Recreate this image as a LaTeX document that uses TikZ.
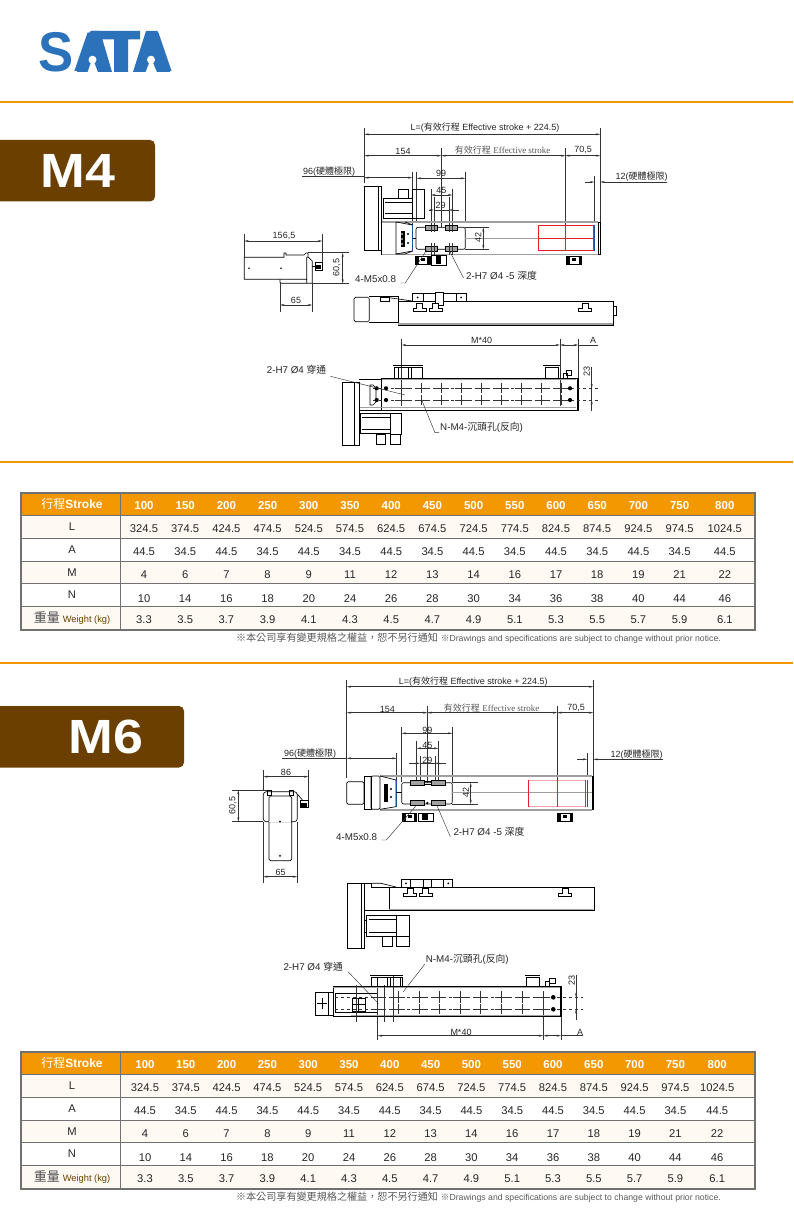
\documentclass[tikz,border=0pt]{standalone}
\usepackage{fontspec}
\setmainfont{Liberation Sans}
\newfontfamily\serifface{Liberation Serif}
\newfontfamily\cjk{Noto Sans CJK TC}
\usetikzlibrary{arrows.meta}
\definecolor{barorange}{HTML}{F39800}
\definecolor{tabbrown}{HTML}{6B3F00}
\definecolor{logoblue}{HTML}{2B72BA}
\definecolor{tablegray}{HTML}{717171}
\definecolor{rowcream}{HTML}{FEF9F3}
\definecolor{railgray}{HTML}{A0A0A0}
\definecolor{stopred}{HTML}{E8202A}
\definecolor{stopblue}{HTML}{1F4FA0}
\tikzset{
	dimline/.style={line width=0.45pt,draw=black!80,{Stealth[length=4.5pt,width=2pt]}-{Stealth[length=4.5pt,width=2pt]}},
	tipline/.style={line width=0.45pt,draw=black!80,-{Stealth[length=4.5pt,width=2pt]}},
	extline/.style={line width=0.45pt,draw=black!80},
	part/.style={line width=0.65pt,draw=black},
	rail/.style={line width=1.3pt,draw=railgray},
	dimlabel/.style={font=\fontsize{9}{10}\selectfont,text=black!85,inner sep=0pt},
	callout/.style={font=\fontsize{9.8}{10}\selectfont,text=black!85,inner sep=0pt},
	cell/.style={font=\fontsize{11.2}{12}\selectfont,text=black!85,inner sep=0pt},
	headcell/.style={font=\fontsize{11.5}{12}\selectfont\bfseries,text=white,inner sep=0pt},
	tabtext/.style={font=\fontsize{48}{50}\selectfont\bfseries,text=white,inner sep=0pt,xscale=1.12,transform shape},
	notetext/.style={text=black!65,inner sep=0pt}
}
\newcommand{\hdim}[3]{\draw[dimline] (#2,#1) -- (#3,#1);}
\newcommand{\vdim}[3]{\draw[dimline] (#1,#2) -- (#1,#3);}
\newcommand{\ext}[3]{\draw[extline] (#1,#2) -- (#1,#3);}
\newcommand{\hext}[3]{\draw[extline] (#2,#1) -- (#3,#1);}
\newcommand{\footblock}[3]{
	\draw[part] (#1,#2) rectangle ++(#3,8);
	\fill (#1,#2) rectangle ++(3.5,8);
	\fill ({#1+#3-3},#2) rectangle ++(3,8);
	\fill ({#1+#3/2-2},{#2+2}) rectangle ++(4,3);
}
\newcommand{\tfoot}[2]{
	\draw[part,fill=white] (#1,#2+8) -- ++(0,-3) -- ++(3.5,0) -- ++(0,-5) -- ++(6,0) -- ++(0,5) -- ++(3.5,0) -- ++(0,3) -- cycle;
	\draw[line width=1pt] (#1,#2+8) -- ++(13,0);
}
\newcommand{\specdata}{100/324.5/44.5/4/10/3.3,150/374.5/34.5/6/14/3.5,200/424.5/44.5/7/16/3.7,250/474.5/34.5/8/18/3.9,300/524.5/44.5/9/20/4.1,350/574.5/34.5/11/24/4.3,400/624.5/44.5/12/26/4.5,450/674.5/34.5/13/28/4.7,500/724.5/44.5/14/30/4.9,550/774.5/34.5/16/34/5.1,600/824.5/44.5/17/36/5.3,650/874.5/34.5/18/38/5.5,700/924.5/44.5/19/40/5.7,750/974.5/34.5/21/44/5.9,800/1024.5/44.5/22/46/6.1}
\newcommand{\spectable}[4]{
	\begin{scope}[shift={(0,#1)}]
		\fill[barorange] (21,0) rectangle (755,22.6);
		\fill[rowcream] (21,22.6) rectangle (755,45.3);
		\fill[rowcream] (21,68.3) rectangle (755,90.6);
		\fill[rowcream] (21,113.3) rectangle (755,137);
		\foreach \rowy in {22.6,45.3,68.3,90.6,113.3}
			\draw[tablegray,line width=0.9pt] (21,\rowy) -- (755,\rowy);
		\draw[tablegray,line width=0.9pt] (120.3,0) -- (120.3,137);
		\draw[tablegray,line width=1.8pt] (21,0) rectangle (755,137);
		\node[headcell,font=\fontsize{12}{13}\selectfont] (head#1) at (72,11.3) {{\cjk 行程}\textbf{Stroke}};
		\node[cell] (rowL#1) at (72,33.7) {L};
		\node[cell] (rowA#1) at (72,57) {A};
		\node[cell] (rowM#1) at (72,79.7) {M};
		\node[cell] (rowN#1) at (72,102) {N};
		\node[cell,text=black!70,anchor=base] (rowW#1) at (72,129) {{\cjk\fontsize{13}{14}\selectfont 重量} {\fontsize{9.3}{10}\selectfont\color{tabbrown}Weight (kg)}};
		\foreach \st/\lv/\av/\mv/\nv/\wv [count=\i from 0] in \specdata {
			\pgfmathsetmacro{\colx}{#2+#3*\i+#4*int(\i/14)}
			\node[headcell] (st#1\i) at (\colx,12.7) {\st};
			\node[cell] (lv#1\i) at (\colx,35.3) {\lv};
			\node[cell] (av#1\i) at (\colx,58.7) {\av};
			\node[cell] (mv#1\i) at (\colx,82) {\mv};
			\node[cell] (nv#1\i) at (\colx,105.3) {\nv};
			\node[cell] (wv#1\i) at (\colx,126.3) {\wv};
		}
		\node[notetext,anchor=east] (note#1) at (721,145.3) {{\cjk\fontsize{10.1}{11}\selectfont ※本公司享有變更規格之權益，恕不另行通知} {\cjk\fontsize{8.7}{9}\selectfont ※}{\fontsize{8.7}{9}\selectfont Drawings and specifications are subject to change without prior notice.}};
	\end{scope}
}
\begin{document}
\begin{tikzpicture}[x=1pt,y=-1pt]
		\useasboundingbox (0,0) rectangle (793,1214);
		\fill[white] (0,0) rectangle (793,1214);
		\node[font=\fontsize{56}{58}\selectfont\bfseries,text=logoblue,inner sep=0pt,xscale=0.94,transform shape,anchor=base west] (logo) at (38,72) {SATA};
		\fill[white] (76,31) -- (87,31) -- (76,62) -- cycle;
		\fill[logoblue] (77,72) -- (90.5,31) -- (100,31) -- (112,72) -- cycle;
		\fill[logoblue] (92,31) -- (140,31) -- (140,39.5) -- (128,39.5) -- (128,72) -- (114,72) -- (114,39.5) -- (92,39.5) -- cycle;
		\fill[logoblue] (133,72) -- (146,31) -- (157.5,31) -- (170,72) -- cycle;
		\fill[white] (92.5,59.7) circle (4);
		\fill[white] (87.5,72.5) -- (92.5,58) -- (98,72.5) -- cycle;
		\fill[white] (151,59.7) circle (4);
		\fill[white] (145.5,72.5) -- (151,58) -- (157,72.5) -- cycle;
		\foreach \bary in {102,462,663}
			\fill[barorange] (0,\bary-1) rectangle (793,\bary+1);
		\fill[tabbrown] (0,140) [rounded corners=5pt] -- (155,140) -- (155,201.5) [sharp corners] -- (0,201.5) -- cycle;
		\node[tabtext] (tabfour) at (78,171) {M4};
		\fill[tabbrown] (0,706) [rounded corners=5pt] -- (184,706) -- (184,767.5) [sharp corners] -- (0,767.5) -- cycle;
		\node[tabtext] (tabsix) at (106,737) {M6};

		\ext{364.3}{128}{183}
		\ext{600.3}{128}{222}
		\hdim{134.3}{364.3}{600.3}
		\node[dimlabel] (fourtotal) at (485,127.7) {L=({\cjk 有效行程} Effective stroke + 224.5)};
		\ext{441.3}{148}{230}
		\hdim{155.7}{364.3}{441.3}
		\node[dimlabel] (fourhome) at (403,151) {154};
		\ext{565.3}{148}{250}
		\hdim{155.7}{441.3}{565.3}
		\hdim{155.7}{565.3}{600.3}
		\node[dimlabel,text=black!65] (fourstroke) at (502.7,150) {{\cjk 有效行程} {\serifface Effective stroke}};
		\node[dimlabel] (fourend) at (583,150) {70,5};
		\ext{412.3}{171.7}{230}
		\hext{176}{302}{364.3}
		\hdim{177.7}{364.3}{412.3}
		\node[dimlabel] (fourhard) at (329,171.5) {96({\cjk 硬體極限})};
		\ext{416.7}{171.7}{223}
		\ext{465.3}{171.7}{223}
		\hdim{178.3}{416.7}{465.3}
		\node[dimlabel] (fournine) at (441,173) {99};
		\ext{431}{189}{230}
		\ext{452.3}{189}{230}
		\hdim{195}{431}{452.3}
		\node[dimlabel] (fourfive) at (441.3,190.7) {45};
		\ext{434}{197}{230}
		\ext{449}{197}{230}
		\draw[tipline] (429,210) -- (434,210);
		\draw[tipline] (459,210) -- (449,210);
		\hext{210}{434}{449}
		\node[dimlabel] (fourtwo) at (440.7,205) {29};
		\ext{594.3}{176}{221}
		\draw[tipline] (585,182) -- (594.3,182);
		\draw[tipline] (667.3,182) -- (600.3,182);
		\node[dimlabel] (fourstop) at (641.7,176.5) {12({\cjk 硬體極限})};

		\draw[part] (364.3,186.7) rectangle (378.3,250);
		\draw[part] (378.3,186.7) rectangle (381.7,250);
		\draw[part] (383,198) rectangle (412,218);
		\draw[part] (385,202) -- (412,202);
		\draw[part] (385,213) -- (412,213);
		\draw[part] (412,189) rectangle (424,218);
		\draw[part] (398,189) rectangle (408,198);
		\draw[part] (381.7,222) rectangle (600.3,254.3);
		\draw[rail] (381.7,222) -- (598,222);
		\draw[rail] (381.7,254.3) -- (598,254.3);
		\draw[part] (598,222) rectangle (600.3,254.3);
		\draw[part] (396,222) -- (396,254) -- (405,254) -- (412.5,251) -- (412.5,225) -- (405,222);
		\draw[part] (396,222) -- (412.5,225);
		\draw[part] (396,254) -- (412.5,251);
		\fill (401,231) rectangle (405,247);
		\fill[white] (402,234) circle (0.8) (402,239) circle (0.8) (402,244) circle (0.8);
		\foreach \boltx/\bolty in {408/234,408/243}
			\fill (\boltx,\bolty) circle (1.2);
		\draw[stopblue,line width=0.9pt] (412.7,225) -- (412.7,251);
		\draw[part,fill=white,rounded corners=2pt] (416,227.3) rectangle (465.3,249.3);
		\draw[line width=0.7pt,fill=railgray] (425,225) rectangle (437.7,230);
		\draw[line width=0.7pt,fill=railgray] (445,225) rectangle (457.7,230);
		\draw[line width=0.7pt,fill=railgray] (425,246.7) rectangle (437,251);
		\draw[line width=0.7pt,fill=railgray] (445,246.7) rectangle (457.7,251);
		\draw[rail,line width=0.8pt] (465.3,238.3) -- (594,238.3);
		\draw[part] (412.7,238.3) -- (416,238.3);
		\ext{431}{226}{232}
		\ext{434}{226}{232}
		\ext{449}{226}{232}
		\ext{452.3}{226}{232}
		\ext{431}{243}{255}
		\ext{434}{243}{255}
		\ext{449}{243}{255}
		\ext{452.3}{243}{255}
		\hext{227.3}{465.3}{489.3}
		\hext{249.3}{465.3}{489.3}
		\vdim{483.3}{227.3}{249.3}
		\node[dimlabel,rotate=90] (fourbore) at (478.3,237.7) {42};
		\draw[stopred,line width=0.8pt] (538.3,225) rectangle (593.3,250.7);
		\draw[stopred,line width=0.7pt] (538.3,238.3) -- (593.3,238.3);
		\draw[stopred,line width=0.7pt] (565.3,225) -- (565.3,250.7);
		\draw[stopblue,line width=0.9pt] (594.3,225) -- (594.3,251);
		\footblock{415}{256}{15}
		\draw[part] (431,255) rectangle (446.7,265);
		\fill (436,256) rectangle (441,264);
		\footblock{566.7}{256}{15}
		\node[callout,anchor=west] (fourthread) at (355,279) {4-M5x0.8};
		\draw[extline] (fourthread.east) ++(4,4) -- ++(5,0) -- (426.7,250);
		\node[callout,anchor=west] (fourhole) at (466,276) {2-H7 Ø4 -5 {\cjk 深度}};
		\draw[extline] (fourhole.west) ++(-2.5,2) -- (450,251.7);

		\draw[part] (244.3,257.3) -- (284,257.3) -- (284,253) -- (286,253) -- (286,255) -- (304,255) -- (306,253) -- (308,253) -- (308,257) -- (312.3,261) -- (312.3,283.3) -- (306.7,283.3) -- (306.7,279.3) -- (244.3,279.3) -- cycle;
		\draw[part] (306.7,279.3) -- (306.7,257.3) -- (308,257);
		\draw[part,rounded corners=1pt] (280,279.3) -- (280,283.3) -- (306.7,283.3);
		\draw[part] (312.3,266) -- (315,266);
		\draw[part] (315,262.3) rectangle (322.3,270);
		\fill (316,265) rectangle (321,269);
		\fill (249,268.3) circle (0.9);
		\fill (281,268.3) circle (0.9);
		\ext{244.3}{234.3}{257}
		\ext{322.3}{234.3}{262}
		\hdim{241}{244.3}{322.3}
		\node[dimlabel] (fourwide) at (284,235.7) {156,5};
		\hext{252.7}{308}{349}
		\hext{283.7}{312}{349}
		\vdim{342.7}{252.7}{283.7}
		\node[dimlabel,rotate=90] (fourtall) at (336.7,267.7) {60,5};
		\ext{280}{283}{311.7}
		\ext{312.3}{283}{311.7}
		\hdim{305}{280}{312.3}
		\node[dimlabel] (fourbase) at (296,300) {65};

		\draw[part,rounded corners=1.5pt] (354,297.3) rectangle (369.3,321.7);
		\draw[part] (369.3,296.7) -- (398.3,296.7) -- (398.3,325);
		\draw[part] (369.3,322) -- (398.3,322);
		\draw[part] (398.3,301) -- (613.3,301) -- (613.3,325) -- (398.3,325);
		\draw[rail] (398.3,324) -- (613.3,324);
		\draw[part] (613.3,306.7) rectangle (616,315);
		\draw[part] (380.7,297.7) rectangle (389,301);
		\draw[part] (389,297.7) -- (412,301);
		\draw[part,fill=white] (412.3,293.3) rectangle (466.7,301);
		\draw[part] (423,293.3) -- (423,301) (456,293.3) -- (456,301);
		\draw[part,fill=white] (435,292) rectangle (443.3,305);
		\fill (417.7,297.5) circle (1);
		\fill (461,297.5) circle (1);
		\tfoot{413}{303.5}
		\tfoot{429}{303.5}
		\tfoot{578.5}{303.5}

		\hdim{345}{401.7}{560}
		\node[dimlabel] (fourpitch) at (481.7,340.7) {M*40};
		\ext{401.7}{339}{406}
		\ext{560}{339}{406}
		\ext{578.3}{339}{380}
		\hdim{345}{560}{578.3}
		\hext{345}{578.3}{598}
		\node[dimlabel] (fourgap) at (593,340.7) {A};
		\ext{591.7}{366.7}{411}
		\draw[tipline] (591.7,380) -- (591.7,388.3);
		\draw[tipline] (591.7,408) -- (591.7,400);
		\node[dimlabel,rotate=90] (fourrow) at (586.7,371.7) {23};
		\draw[part] (381.7,378.3) rectangle (578.3,410);
		\draw[rail] (381.7,379.5) -- (576,379.5);
		\draw[rail] (360,407.5) -- (576,407.5);
		\fill (577,379) rectangle (579,410);
		\draw[part] (342.7,382.7) rectangle (354,445);
		\draw[part] (354,382.7) rectangle (359,445);
		\draw[part] (359,379.3) -- (381.7,379.3);
		\draw[part] (359,410) -- (381.7,410);
		\draw[part] (370,385) -- (373,385) -- (376,388) -- (376,402) -- (373,405) -- (370,405) -- cycle;
		\foreach \crossy in {388.3,400}
			\draw[extline,dashed] (373,\crossy) -- (598,\crossy);
		\foreach \crossx in {401.7,421.7,...,561.7}{
			\ext{\crossx}{383}{393}
			\ext{\crossx}{395}{405}
			\hext{388.3}{\crossx-7}{\crossx+7}
			\hext{400}{\crossx-7}{\crossx+7}
		}
		\foreach \dotx/\doty in {376.7/388.3,386/388.3,376.7/400,386/400,570/388.3,570/400}
			\fill (\dotx,\doty) circle (2.1);
		\draw[part] (360,413.3) rectangle (390,433.3);
		\draw[part] (362,417) -- (390,417) (362,429) -- (390,429);
		\draw[part] (390,413.3) rectangle (401.7,434);
		\draw[part] (376,434) rectangle (385,444);
		\draw[part] (390,434) rectangle (400.7,444);
		\draw[part] (393.3,365) -- (423.3,365) (394,378) -- (394,367) -- (422,367) -- (422,378);
		\draw[part] (398,367) rectangle (408,378);
		\draw[part] (411,367) rectangle (422,378);
		\draw[part] (543,365) -- (560,365) (545,378) -- (545,367) -- (558,367) -- (558,378);
		\draw[part] (563,378) -- (563,373) -- (567,373) -- (567,378);
		\draw[line width=0.8pt] (566,370) rectangle (571,375);
		\node[callout,anchor=west] (fourthrough) at (266.7,369.3) {2-H7 Ø4 {\cjk 穿通}};
		\draw[extline] (fourthrough.east) ++(4,7) -- (405,395);
		\node[callout,anchor=west] (fourcounter) at (440,427.7) {N-M4-{\cjk 沉頭孔}({\cjk 反向})};
		\draw[extline] (fourcounter.west) ++(-1,5) -- ++(-4,0) -- (421.7,400);

		\spectable{493}{144}{41.2}{4}

		\ext{346.7}{680}{778}
		\ext{593.3}{680}{776.7}
		\hdim{686.7}{346.7}{593.3}
		\node[dimlabel] (sixtotal) at (473.3,682) {L=({\cjk 有效行程} Effective stroke + 224.5)};
		\ext{427.3}{706}{800}
		\hdim{712.7}{346.7}{427.3}
		\node[dimlabel] (sixhome) at (387.3,709.3) {154};
		\ext{557.3}{706}{806}
		\hdim{712.7}{427.3}{557.3}
		\hdim{712.7}{557.3}{593.3}
		\node[dimlabel,text=black!65] (sixstroke) at (491.7,708.3) {{\cjk 有效行程} {\serifface Effective stroke}};
		\node[dimlabel] (sixend) at (576,708) {70,5};
		\ext{396.7}{752.7}{793}
		\hext{758.3}{282.3}{346.7}
		\hdim{758.3}{346.7}{396.7}
		\node[dimlabel] (sixhard) at (310,753.5) {96({\cjk 硬體極限})};
		\ext{401.7}{727.3}{781.7}
		\ext{452.3}{727.3}{781.7}
		\hdim{733.3}{401.7}{452.3}
		\node[dimlabel] (sixnine) at (427.3,730) {99};
		\ext{416.7}{740.7}{803}
		\ext{438.3}{740.7}{803}
		\hdim{748.3}{416.7}{438.3}
		\node[dimlabel] (sixfive) at (427.3,745) {45};
		\ext{420}{756}{803}
		\ext{435}{756}{803}
		\draw[tipline] (409.3,763.3) -- (420,763.3);
		\draw[tipline] (446,763.3) -- (435,763.3);
		\hext{763.3}{420}{435}
		\node[dimlabel] (sixtwo) at (427.3,760) {29};
		\ext{587.3}{753}{776.7}
		\draw[tipline] (577.3,759.3) -- (587.3,759.3);
		\draw[tipline] (663.3,759.3) -- (593.3,759.3);
		\node[dimlabel] (sixstop) at (636.7,754.3) {12({\cjk 硬體極限})};

		\draw[part,rounded corners=1.5pt] (346.7,781.7) rectangle (364,804.3);
		\draw[part] (364,776) rectangle (371,809.3);
		\draw[part,rounded corners=1.5pt] (371,776) rectangle (380,809.3);
		\draw[rail] (380,776) -- (592,776);
		\draw[rail] (380,810) -- (592,810);
		\draw[line width=1.3pt] (593,776) -- (593,810);
		\draw[part] (380,776) -- (396,780) -- (396,806.7) -- (380,809.3);
		\fill (384,784) rectangle (388,802);
		\fill (391,789) circle (1.2) (391,797) circle (1.2);
		\draw[stopblue,line width=0.9pt] (396,780) -- (396,806.7);
		\draw[part] (396,792.7) -- (401.7,792.7);
		\draw[part,fill=white,rounded corners=2pt] (401.7,782.7) rectangle (452.3,804);
		\draw[line width=0.7pt,fill=railgray] (410,780) rectangle (424,785);
		\draw[line width=0.7pt,fill=railgray] (431.7,780) rectangle (445.7,785);
		\draw[line width=0.7pt,fill=railgray] (410,800.7) rectangle (424,805);
		\draw[line width=0.7pt,fill=railgray] (431.7,800.7) rectangle (445.7,805);
		\draw[part] (424,781) rectangle (431.7,784);
		\fill (427.3,803) circle (1.3);
		\draw[rail,line width=0.9pt] (452.3,792.7) -- (592,792.7);
		\hext{782.7}{452.3}{478.3}
		\hext{804}{452.3}{478.3}
		\vdim{470.7}{782.7}{804}
		\node[dimlabel,rotate=90] (sixbore) at (466,792.7) {42};
		\draw[stopred!40,line width=0.8pt] (528.3,780) -- (585.7,780) (528.3,806.7) -- (585.7,806.7);
		\draw[stopred,line width=0.8pt] (528.3,780) -- (528.3,806.7) (585.7,780) -- (585.7,806.7) (557.3,780) -- (557.3,806.7);
		\draw[stopblue,line width=0.9pt] (587.3,780) -- (587.3,806.7);
		\footblock{402.7}{813}{14}
		\draw[part] (418.3,813) rectangle (433.3,821);
		\fill (422,814) rectangle (428,820);
		\footblock{557.3}{813}{15.4}
		\node[callout,anchor=west] (sixthread) at (336,836.7) {4-M5x0.8};
		\draw[extline] (sixthread.east) ++(4,3.3) -- ++(5,0) -- (416.7,805);
		\node[callout,anchor=west] (sixhole) at (453.3,831.7) {2-H7 Ø4 -5 {\cjk 深度}};
		\draw[extline] (sixhole.west) ++(-3,5) -- (436.7,805);

		\draw[part,rounded corners=3pt] (263.3,791.7) rectangle (297.3,821.7);
		\draw[part,rounded corners=1.5pt] (269,796) rectangle (291.7,860.7);
		\fill[white] (269.4,821) rectangle (291.3,822.4);
		\draw[part] (267.3,790) rectangle (271,795);
		\draw[part] (289.3,790) rectangle (293,795);
		\draw[part] (297.3,794) -- (303,800.7);
		\draw[part] (300,800.7) rectangle (308.3,807.3);
		\fill (301,803) rectangle (307,807);
		\fill (280,821.7) circle (1);
		\draw (280,855.7) circle (0.9);
		\ext{263.3}{770}{791}
		\ext{308.3}{770}{800}
		\hdim{776.7}{263.3}{308.3}
		\node[dimlabel] (sixwide) at (286,772.5) {86};
		\hext{790}{231.7}{267}
		\hext{821.7}{231.7}{263.3}
		\vdim{238.3}{790}{821.7}
		\node[dimlabel,rotate=90] (sixtall) at (232.7,805.7) {60,5};
		\ext{263.3}{822}{883}
		\ext{297.3}{822}{883}
		\hdim{876.7}{263.3}{297.3}
		\node[dimlabel] (sixbase) at (280.7,872.7) {65};

		\draw[part] (347.3,883.3) rectangle (361,948.3);
		\draw[part] (361,883.3) rectangle (364.3,948.3);
		\draw[part] (364.3,883.3) -- (371.7,883.3) -- (371.7,887.3) -- (396,887.3);
		\draw[part] (371.7,883.3) -- (381,883.3) -- (396,887);
		\draw[part] (389,887.3) -- (389,910.7);
		\draw[part] (364.3,910.7) -- (389,910.7);
		\draw[part] (389,887.3) -- (594,887.3) -- (594,910.7) -- (389,910.7);
		\draw[rail] (389,909.5) -- (592.5,909.5);
		\draw[part,fill=white] (401.7,879) rectangle (452.7,887.3);
		\draw[part] (410,879) -- (410,887.3) (443,879) -- (443,887.3);
		\draw[part,fill=white] (423.3,879) rectangle (431.7,887.3);
		\fill (406,883.3) circle (1);
		\fill (448.3,883.3) circle (1);
		\tfoot{403.5}{888.5}
		\tfoot{419}{888.5}
		\tfoot{558.5}{888.5}
		\draw[part] (366.7,915.7) rectangle (396.7,936);
		\draw[part] (368.7,919) -- (396.7,919) (368.7,932) -- (396.7,932);
		\draw[part] (364.3,920) -- (366.7,920) (364.3,932) -- (366.7,932);
		\draw[part] (396.7,915.7) rectangle (409.3,936.7);
		\draw[part] (382.3,936.7) rectangle (392.3,946.7);
		\draw[part] (396,936.7) rectangle (409.3,946.7);

		\hdim{1035.7}{377.7}{543.3}
		\node[dimlabel] (sixpitch) at (461,1032) {M*40};
		\ext{377.7}{985}{1040}
		\ext{543.3}{991.7}{1040}
		\ext{561}{986.7}{1040}
		\hdim{1035.7}{543.3}{561}
		\hext{1035.7}{561}{583.3}
		\node[dimlabel] (sixgap) at (580,1032) {A};
		\ext{576}{975}{1020}
		\draw[tipline] (576,989) -- (576,997.3);
		\draw[tipline] (576,1017) -- (576,1009.3);
		\node[dimlabel,rotate=90] (sixrow) at (571.7,980) {23};
		\draw[part] (333.3,986.7) rectangle (561,1016.7);
		\draw[rail] (333.3,987.5) -- (560,987.5);
		\draw[rail] (351,1015.5) -- (560,1015.5);
		\fill (560,986.7) rectangle (561.5,1016.7);
		\draw[part] (315.7,992.3) rectangle (328.3,1015);
		\draw[part] (328.3,992.3) rectangle (333.3,1015);
		\draw[part] (322,998) -- (322,1009) (317,1003.5) -- (327,1003.5);
		\draw[part] (335,993) rectangle (377,1012);
		\draw[line width=1pt] (352,998) rectangle (365,1011);
		\draw[line width=1pt] (352,1004.5) -- (365,1004.5) (358.5,998) -- (358.5,1011);
		\foreach \crossy in {997.3,1009.3}
			\draw[extline,dashed] (335,\crossy) -- (583.3,\crossy);
		\foreach \crossx in {377.7,398.3,419,439.3,460,480.7,501.7,522.3,543.3}{
			\ext{\crossx}{991}{1002.5}
			\ext{\crossx}{1004}{1014}
			\hext{997.3}{\crossx-7}{\crossx+7}
			\hext{1009.3}{\crossx-7}{\crossx+7}
		}
		\ext{356}{985}{1022}
		\ext{384}{985}{1022}
		\ext{393}{975}{1022}
		\foreach \doty in {997.3,1009.3}
			\fill (553.3,\doty) circle (2.3);
		\draw[part] (370,975) -- (403.3,975) (371,986) -- (371,977) -- (402,977) -- (402,986);
		\draw[part] (377,977) rectangle (387,986);
		\draw[part] (390,977) rectangle (400,986);
		\draw[part] (525,975) -- (540,975) (526,986) -- (526,977) -- (539,977) -- (539,986);
		\draw[part] (545,986) -- (545,981) -- (549,981) -- (549,986);
		\draw[line width=0.8pt] (549,978) rectangle (555,983);
		\node[callout,anchor=west] (sixthrough) at (283.3,966.7) {2-H7 Ø4 {\cjk 穿通}};
		\draw[extline] (sixthrough.east) ++(5,5) -- (378.3,1003.3);
		\node[callout,anchor=west] (sixcounter) at (425.7,959.3) {N-M4-{\cjk 沉頭孔}({\cjk 反向})};
		\draw[extline] (sixcounter.west) ++(-1,5) -- (403.3,991.7);

		\spectable{1052}{145}{40.8}{1}
\end{tikzpicture}
\end{document}
